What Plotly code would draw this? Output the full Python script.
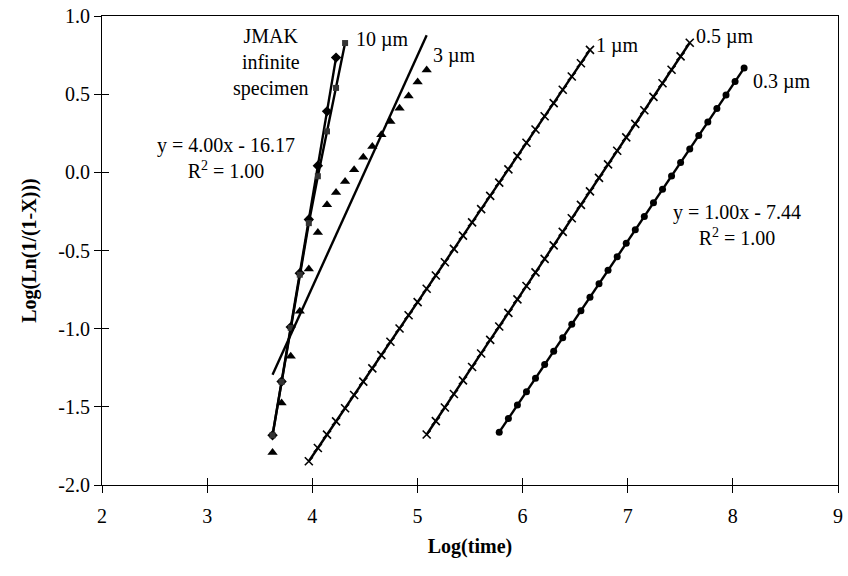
import numpy as np
import plotly.graph_objects as go

# Shared log(time) grid used by every specimen size
LOG_TIME = [
    3.622, 3.708, 3.795, 3.881, 3.967, 4.053, 4.140, 4.226, 4.312, 4.398,
    4.485, 4.571, 4.657, 4.743, 4.830, 4.916, 5.002, 5.088, 5.175, 5.261,
    5.347, 5.433, 5.520, 5.606, 5.692, 5.778, 5.865, 5.951, 6.037, 6.123,
    6.210, 6.296, 6.382, 6.468, 6.555, 6.641, 6.727, 6.813, 6.900, 6.986,
    7.072, 7.158, 7.245, 7.331, 7.417, 7.503, 7.590, 7.676, 7.762, 7.848,
    7.935, 8.021, 8.107,
]

# Log(Ln(1/(1-X))) for each series; *_START is the index into LOG_TIME
JMAK_START = 0
JMAK_Y = [-1.682, -1.338, -0.990, -0.646, -0.302, 0.042, 0.390, 0.734]

UM10_START = 0
UM10_Y = [-1.682, -1.340, -0.995, -0.655, -0.325, -0.025, 0.262, 0.540, 0.827]

UM3_START = 0
UM3_Y = [-1.792, -1.475, -1.177, -0.889, -0.619, -0.385, -0.208, -0.129, -0.059,
         0.016, 0.097, 0.165, 0.240, 0.325, 0.410, 0.489, 0.578, 0.655]

UM1_START = 4
UM1_Y = [-1.848, -1.763, -1.678, -1.593, -1.509, -1.424, -1.339, -1.254, -1.169,
         -1.084, -0.999, -0.914, -0.830, -0.745, -0.660, -0.575, -0.490, -0.405,
         -0.320, -0.235, -0.151, -0.066, 0.019, 0.104, 0.189, 0.274, 0.359,
         0.443, 0.528, 0.613, 0.698, 0.783]

UM05_START = 17
UM05_Y = [-1.677, -1.591, -1.504, -1.418, -1.331, -1.245, -1.159, -1.072, -0.986,
          -0.899, -0.813, -0.727, -0.640, -0.554, -0.467, -0.381, -0.294, -0.208,
          -0.122, -0.035, 0.051, 0.138, 0.224, 0.310, 0.397, 0.483, 0.570, 0.656,
          0.742, 0.829]

UM03_START = 25
UM03_Y = [-1.662, -1.575, -1.489, -1.403, -1.317, -1.230, -1.144, -1.058, -0.972,
          -0.885, -0.799, -0.713, -0.627, -0.540, -0.454, -0.368, -0.282, -0.195,
          -0.109, -0.023, 0.063, 0.150, 0.236, 0.322, 0.408, 0.495, 0.581, 0.667]

X_TICKS = [2, 3, 4, 5, 6, 7, 8, 9]
Y_TICKS = [-2.0, -1.5, -1.0, -0.5, 0.0, 0.5, 1.0]

FONT = "Liberation Serif, Times New Roman, serif"
INK = "black"


def times(start, values):
    return LOG_TIME[start:start + len(values)]


def fit(start, values):
    x = np.array(times(start, values))
    m, b = np.polyfit(x, np.array(values), 1)
    return x, m, b


def equation(m, b):
    sign = "-" if b < 0 else "+"
    return f"y = {m:.2f}x {sign} {abs(b):.2f}<br>R<sup>2</sup> = 1.00"


fig = go.Figure()

line = dict(color=INK, width=2.4)

# JMAK infinite specimen
fig.add_trace(go.Scatter(
    x=times(JMAK_START, JMAK_Y), y=JMAK_Y, mode="lines+markers",
    line=line, marker=dict(symbol="diamond", size=8, color=INK)))

# 10 um
fig.add_trace(go.Scatter(
    x=times(UM10_START, UM10_Y), y=UM10_Y, mode="lines+markers",
    line=line, marker=dict(symbol="square", size=6, color="#333333")))

# 3 um: points plus linear trendline
fig.add_trace(go.Scatter(
    x=times(UM3_START, UM3_Y), y=UM3_Y, mode="markers",
    marker=dict(symbol="triangle-up", size=9, color=INK)))
x3, m3, b3 = fit(UM3_START, UM3_Y)
xe = np.array([x3.min(), x3.max()])
fig.add_trace(go.Scatter(x=xe, y=m3 * xe + b3, mode="lines", line=line))

# 1 um and 0.5 um
for start, ys in ((UM1_START, UM1_Y), (UM05_START, UM05_Y)):
    fig.add_trace(go.Scatter(
        x=times(start, ys), y=ys, mode="lines+markers", line=line,
        marker=dict(symbol="x-thin", size=8, color=INK,
                    line=dict(width=1.6, color=INK))))

# 0.3 um
fig.add_trace(go.Scatter(
    x=times(UM03_START, UM03_Y), y=UM03_Y, mode="lines+markers", line=line,
    marker=dict(symbol="circle", size=7, color=INK)))

# Empty trace that carries the overlay axes used for inward tick marks
fig.add_trace(go.Scatter(x=[], y=[], xaxis="x2", yaxis="y2", showlegend=False))

_, mj, bj = fit(JMAK_START, JMAK_Y)
_, m03, b03 = fit(UM03_START, UM03_Y)

txt = dict(family=FONT, size=20, color=INK)
notes = [
    (3.61, 0.70, "JMAK<br>infinite<br>specimen", "center"),
    (3.18, 0.09, equation(mj, bj), "center"),
    (4.40, 0.85, "10 \u00b5m", "left"),
    (5.13, 0.75, "3 \u00b5m", "left"),
    (6.68, 0.81, "1 \u00b5m", "left"),
    (7.63, 0.87, "0.5 \u00b5m", "left"),
    (8.17, 0.58, "0.3 \u00b5m", "left"),
    (8.04, -0.335, equation(m03, b03), "center"),
]
for x, y, t, al in notes:
    fig.add_annotation(x=x, y=y, text=t, showarrow=False, font=txt,
                       xanchor=al, yanchor="middle", align="center")

axis_common = dict(showgrid=False, zeroline=False, showline=True,
                   linecolor=INK, linewidth=1, mirror=True,
                   ticks="outside", ticklen=7, tickwidth=1, tickcolor=INK,
                   tickfont=dict(family=FONT, size=20, color=INK))

fig.update_layout(
    width=848, height=576, autosize=False,
    margin=dict(l=102, r=5, t=16, b=91),
    paper_bgcolor="white", plot_bgcolor="white",
    showlegend=False,
    xaxis=dict(range=[2, 9], tickvals=X_TICKS,
               ticktext=[str(v) for v in X_TICKS],
               ticklabelstandoff=6,
               title=dict(text="<b>Log(time)</b>", standoff=12,
                          font=dict(family=FONT, size=20, color=INK)),
               **axis_common),
    yaxis=dict(range=[-2, 1], tickvals=Y_TICKS,
               ticktext=[f"{v:.1f}" for v in Y_TICKS],
               title=dict(text="<b>Log(Ln(1/(1-X)))</b>", standoff=16,
                          font=dict(family=FONT, size=20, color=INK)),
               **axis_common),
    xaxis2=dict(overlaying="x", range=[2, 9], tickvals=X_TICKS,
                showticklabels=False, showgrid=False, zeroline=False,
                showline=False, ticks="inside", ticklen=7, tickcolor=INK),
    yaxis2=dict(overlaying="y", range=[-2, 1], tickvals=Y_TICKS,
                showticklabels=False, showgrid=False, zeroline=False,
                showline=False, ticks="inside", ticklen=7, tickcolor=INK),
)

fig.write_html("out.html")
